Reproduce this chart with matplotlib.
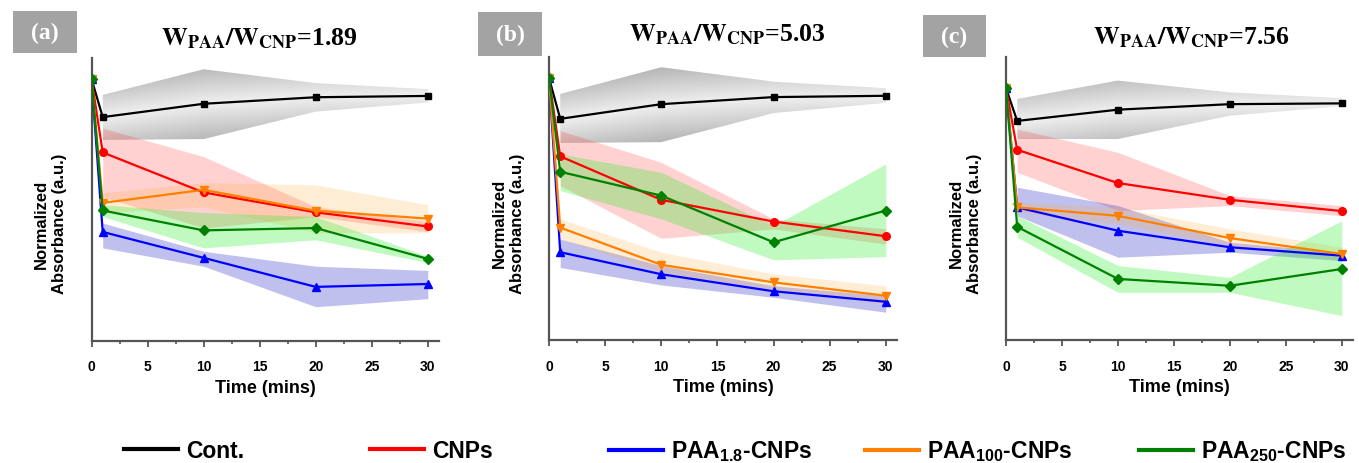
import numpy as np
import matplotlib
matplotlib.use("Agg")
import matplotlib.pyplot as plt
from matplotlib.lines import Line2D
from matplotlib.patches import Rectangle

plt.rcParams["font.family"] = ["Liberation Sans", "DejaVu Sans"]
plt.rcParams["font.weight"] = "bold"
plt.rcParams["mathtext.fontset"] = "custom"
plt.rcParams["mathtext.rm"] = "Liberation Sans:bold"
plt.rcParams["mathtext.bf"] = "Liberation Sans:bold"
plt.rcParams["mathtext.it"] = "Liberation Sans:bold"

# Sampling times (min) and the times where the spread bands are drawn
times = [0, 1, 10, 20, 30]
band_times = [1, 10, 20, 30]

series = ["Cont.", "CNPs", "PAA1.8-CNPs", "PAA100-CNPs", "PAA250-CNPs"]
legend_labels = ["Cont.", "CNPs", r"PAA$_{1.8}$-CNPs", r"PAA$_{100}$-CNPs", r"PAA$_{250}$-CNPs"]
ratios = ["1.89", "5.03", "7.56"]
panel_tags = ["(a)", "(b)", "(c)"]

# Normalized absorbance, panel (a)  W_PAA/W_CNP = 1.89
mean_a = {
    "Cont.":       [1.00, 0.854, 0.905, 0.930, 0.935],
    "CNPs":        [1.00, 0.719, 0.566, 0.490, 0.436],
    "PAA1.8-CNPs": [1.00, 0.415, 0.316, 0.205, 0.216],
    "PAA100-CNPs": [1.00, 0.526, 0.576, 0.496, 0.466],
    "PAA250-CNPs": [1.00, 0.497, 0.421, 0.430, 0.312],
}
low_a = {
    "Cont.":       [0.767, 0.770, 0.875, 0.910],
    "CNPs":        [0.550, 0.430, 0.473, 0.416],
    "PAA1.8-CNPs": [0.354, 0.284, 0.129, 0.160],
    "PAA100-CNPs": [0.489, 0.511, 0.412, 0.412],
    "PAA250-CNPs": [0.474, 0.354, 0.385, 0.298],
}
high_a = {
    "Cont.":       [0.939, 1.037, 0.984, 0.961],
    "CNPs":        [0.812, 0.703, 0.511, 0.455],
    "PAA1.8-CNPs": [0.449, 0.341, 0.284, 0.268],
    "PAA100-CNPs": [0.565, 0.604, 0.595, 0.519],
    "PAA250-CNPs": [0.519, 0.489, 0.474, 0.322],
}

# Panel (b)  W_PAA/W_CNP = 5.03
mean_b = {
    "Cont.":       [1.00, 0.844, 0.900, 0.927, 0.932],
    "CNPs":        [1.00, 0.701, 0.535, 0.452, 0.396],
    "PAA1.8-CNPs": [1.00, 0.335, 0.251, 0.186, 0.146],
    "PAA100-CNPs": [1.00, 0.429, 0.287, 0.220, 0.169],
    "PAA250-CNPs": [1.00, 0.642, 0.551, 0.373, 0.494],
}
low_b = {
    "Cont.":       [0.752, 0.755, 0.866, 0.905],
    "CNPs":        [0.589, 0.388, 0.424, 0.366],
    "PAA1.8-CNPs": [0.277, 0.210, 0.163, 0.106],
    "PAA100-CNPs": [0.385, 0.258, 0.195, 0.137],
    "PAA250-CNPs": [0.570, 0.462, 0.306, 0.318],
}
high_b = {
    "Cont.":       [0.939, 1.041, 0.986, 0.961],
    "CNPs":        [0.799, 0.678, 0.462, 0.424],
    "PAA1.8-CNPs": [0.385, 0.284, 0.207, 0.169],
    "PAA100-CNPs": [0.462, 0.335, 0.252, 0.207],
    "PAA250-CNPs": [0.710, 0.640, 0.436, 0.672],
}

# Panel (c)  W_PAA/W_CNP = 7.56
mean_c = {
    "Cont.":       [0.961, 0.836, 0.879, 0.900, 0.903],
    "CNPs":        [0.961, 0.726, 0.599, 0.535, 0.492],
    "PAA1.8-CNPs": [0.961, 0.506, 0.417, 0.354, 0.322],
    "PAA100-CNPs": [0.961, 0.506, 0.474, 0.389, 0.328],
    "PAA250-CNPs": [0.961, 0.432, 0.233, 0.207, 0.271],
}
low_c = {
    "Cont.":       [0.767, 0.767, 0.856, 0.892],
    "CNPs":        [0.640, 0.494, 0.513, 0.474],
    "PAA1.8-CNPs": [0.474, 0.316, 0.335, 0.303],
    "PAA100-CNPs": [0.487, 0.443, 0.360, 0.309],
    "PAA250-CNPs": [0.392, 0.182, 0.182, 0.093],
}
high_c = {
    "Cont.":       [0.920, 0.990, 0.945, 0.923],
    "CNPs":        [0.805, 0.716, 0.551, 0.513],
    "PAA1.8-CNPs": [0.583, 0.513, 0.373, 0.335],
    "PAA100-CNPs": [0.526, 0.506, 0.424, 0.354],
    "PAA250-CNPs": [0.474, 0.284, 0.239, 0.455],
}

panels = [(mean_a, low_a, high_a), (mean_b, low_b, high_b), (mean_c, low_c, high_c)]

line_colors = {"Cont.": "black", "CNPs": "#ff0000", "PAA1.8-CNPs": "#0000ff",
               "PAA100-CNPs": "#ff8000", "PAA250-CNPs": "#008000"}
band_colors = {"CNPs": ("#ff3030", 0.22), "PAA1.8-CNPs": ("#3030c8", 0.30),
               "PAA100-CNPs": ("#ffb040", 0.22), "PAA250-CNPs": ("#20f020", 0.28)}
markers = {"Cont.": "s", "CNPs": "o", "PAA1.8-CNPs": "^", "PAA100-CNPs": "v", "PAA250-CNPs": "D"}
msizes = {"Cont.": 5, "CNPs": 5.5, "PAA1.8-CNPs": 5.5, "PAA100-CNPs": 5.5, "PAA250-CNPs": 5}

fig = plt.figure(figsize=(13.59, 4.64), dpi=100)

axes_rects = [
    (91.5 / 1359, (464 - 341.5) / 464, 347.5 / 1359, 282.5 / 464),
    (549.0 / 1359, (464 - 341.0) / 464, 348.0 / 1359, 283.0 / 464),
    (1006.0 / 1359, (464 - 341.0) / 464, 347.0 / 1359, 283.0 / 464),
]
tag_boxes = [(13, 12, 64, 42), (478, 13, 64, 44), (923, 16, 63, 42)]
title_centers = [(259, 39), (727, 35), (1191, 38)]

YMAX = 1.08
XMAX = 31


def gray_band(ax, t, lo, hi, mid):
    """Gray band with a shade that darkens away from the control curve."""
    poly = ax.fill_between(t, lo, hi, facecolor="none", edgecolor="none")
    ny, nx = 300, 300
    ys = np.linspace(0, YMAX, ny)
    xs = np.linspace(0, XMAX, nx)
    X, Y = np.meshgrid(xs, ys)
    centre = np.interp(X, times[1:], mid[1:])
    dist = np.abs(Y - centre)
    shade = np.clip(dist / 0.16, 0, 1)
    rgba = np.zeros((ny, nx, 4))
    g = 0.93 - 0.30 * shade
    rgba[..., 0] = g
    rgba[..., 1] = g
    rgba[..., 2] = g
    rgba[..., 3] = 0.85
    im = ax.imshow(rgba, extent=(0, XMAX, 0, YMAX), origin="lower",
                   aspect="auto", zorder=1, interpolation="bilinear")
    im.set_clip_path(poly.get_paths()[0], transform=ax.transData)


for i, (means, lows, highs) in enumerate(panels):
    ax = fig.add_axes(axes_rects[i])
    for name in series:
        if name == "Cont.":
            gray_band(ax, band_times, lows[name], highs[name], means[name])
        else:
            c, a = band_colors[name]
            ax.fill_between(band_times, lows[name], highs[name], color=c, alpha=a,
                            linewidth=0, zorder=2)
    for k, name in enumerate(series):
        ax.plot(times, means[name], color=line_colors[name], lw=1.6,
                marker=markers[name], ms=msizes[name], zorder=5 + k)

    ax.set_xlim(0, XMAX)
    ax.set_ylim(0, YMAX)
    ax.set_xticks([0, 5, 10, 15, 20, 25, 30])
    ax.set_xticks(np.arange(2.5, 30, 5), minor=True)
    ax.set_yticks([])
    for s in ("top", "right"):
        ax.spines[s].set_visible(False)
    for s in ("left", "bottom"):
        ax.spines[s].set_color("#555555")
        ax.spines[s].set_linewidth(1.6)
    ax.tick_params(axis="x", which="major", length=4, width=1.3, color="#555555",
                   labelsize=10, pad=9.5)
    ax.tick_params(axis="x", which="minor", length=2.5, width=1.2, color="#555555")
    for lab in ax.get_xticklabels():
        lab.set_fontweight("bold")
    ax.set_xlabel("Time (mins)", fontsize=13, fontweight="bold", labelpad=4)
    ax.set_ylabel("Normalized\nAbsorbance (a.u.)", fontsize=12, fontweight="bold",
                  linespacing=1.25)
    ax.yaxis.set_label_coords(-0.07, 0.415)

    # panel tag in a gray box
    bx, by, bw, bh = tag_boxes[i]
    fig.patches.append(Rectangle((bx / 1359, 1 - (by + bh) / 464), bw / 1359, bh / 464,
                                 transform=fig.transFigure, facecolor="#a3a3a3",
                                 edgecolor="none"))
    fig.text((bx + bw / 2) / 1359, 1 - (by + bh / 2) / 464, panel_tags[i],
             color="white", fontsize=17, fontweight="bold",
             family=["Liberation Serif"], ha="center", va="center")

    # ratio title: serif bold, subscripted weights
    tx, ty = title_centers[i]
    fig.text(tx / 1359, 1 - ty / 464,
             r"$\mathbf{W_{PAA}/W_{CNP}}$=" + ratios[i],
             fontsize=18.5, fontweight="bold", family=["Liberation Serif"],
             ha="center", va="center", math_fontfamily="stix")

# legend entries placed along the bottom edge
legend_x = [132, 378, 617, 873, 1147]
for k, name in enumerate(series):
    h = Line2D([], [], color=line_colors[name], lw=3)
    fig.legend([h], [legend_labels[k]], loc="center left",
               bbox_to_anchor=((legend_x[k] - 8) / 1359, 1 - 452 / 464),
               frameon=False, fontsize=16.5, handlelength=2.35,
               handletextpad=0.35, borderpad=0, borderaxespad=0)

fig.savefig("out.png", dpi=100)
